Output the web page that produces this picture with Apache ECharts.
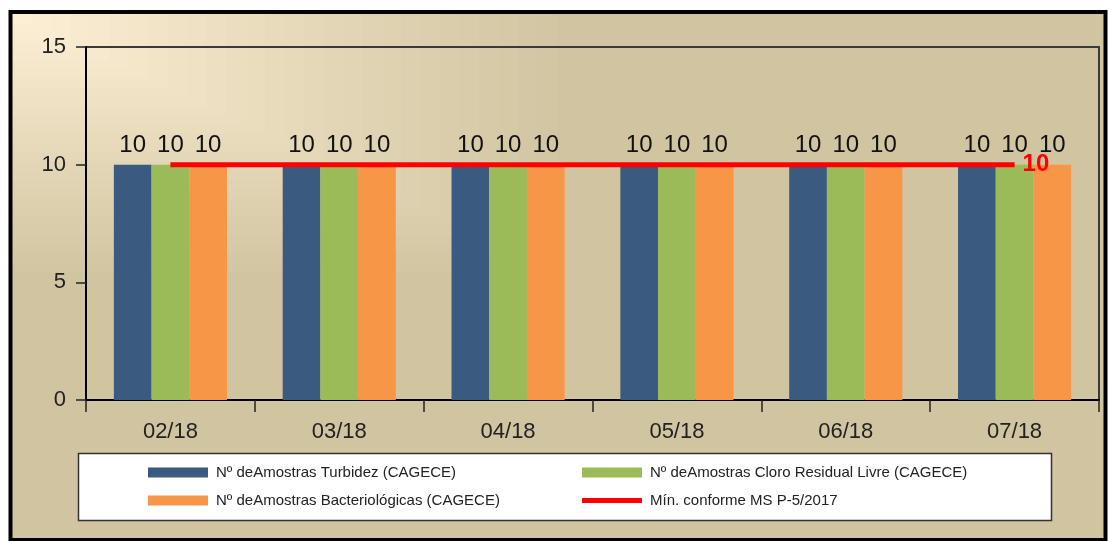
<!DOCTYPE html>
<html>
<head>
<meta charset="utf-8">
<script src="https://cdn.jsdelivr.net/npm/echarts@6/dist/echarts.min.js"></script>
<style>
html,body{margin:0;padding:0;background:#ffffff;}
#chart{width:1108px;height:541px;}
</style>
</head>
<body>
<div id="chart"></div>
<script>
var categories = ['02/18', '03/18', '04/18', '05/18', '06/18', '07/18'];
var turbidez = [10, 10, 10, 10, 10, 10];
var cloro = [10, 10, 10, 10, 10, 10];
var bacteriologicas = [10, 10, 10, 10, 10, 10];
var minimo = [10, 10, 10, 10, 10, 10];
var seriesNames = [
  'Nº deAmostras Turbidez (CAGECE)',
  'Nº deAmostras Cloro Residual Livre (CAGECE)',
  'Nº deAmostras Bacteriológicas (CAGECE)',
  'Mín. conforme MS P-5/2017'
];

var FONT = 'Liberation Sans, Arial, sans-serif';

// background: stepped rectangular gradient anchored at top-left
function hex(c){return [parseInt(c.substr(1,2),16),parseInt(c.substr(3,2),16),parseInt(c.substr(5,2),16)];}
function lerp(a,b,t){var A=hex(a),B=hex(b);return 'rgb('+A.map(function(v,i){return Math.round(v+(B[i]-v)*t);}).join(',')+')';}
var TAN = '#d1c4a1', LIGHT = '#fcefd4';
var bgEls = [{type:'rect', z:-20, shape:{x:12,y:14,width:1092,height:526}, style:{fill:TAN}}];
var N = 28, W0 = 545, H0 = 258;
for (var k = 0; k < N; k++) {
  var f = (N - k) / N;
  bgEls.push({type:'rect', z:-19, shape:{x:12,y:14,width:W0*f,height:H0*f}, style:{fill:lerp(TAN, LIGHT, (k+1)/N)}});
}
bgEls.push({type:'rect', z:-18, shape:{x:10.5,y:12,width:1095,height:528}, style:{fill:'none', stroke:'#000', lineWidth:4}});
bgEls.push({type:'rect', z:-17, shape:{x:78.5,y:453.5,width:973,height:67}, style:{fill:'#ffffff', stroke:'#333', lineWidth:1.5}});

var chart = echarts.init(document.getElementById('chart'), null, {renderer:'canvas'});

function legendAt(name, left, top, h) {
  return {
    data: [{name: name, icon: 'rect'}], left: left, top: top, padding: 0,
    itemWidth: 60, itemHeight: h, selectedMode: false,
    textStyle: {fontFamily: FONT, fontSize: 15, color: '#222', padding: [0,0,0,3]}
  };
}

var barLabel = {show: true, position: 'top', distance: 7, fontFamily: FONT, fontSize: 24, color: '#111'};

chart.setOption({
  animation: false,
  textStyle: {fontFamily: FONT},
  graphic: {elements: bgEls},
  grid: {left: 86, top: 47, right: 9, bottom: 141, show: true, borderColor: '#3a3a3a', borderWidth: 2, backgroundColor: 'transparent'},
  legend: [
    legendAt(seriesNames[0], 148, 465, 10),
    legendAt(seriesNames[2], 148, 493, 10),
    legendAt(seriesNames[1], 582, 465, 10),
    legendAt(seriesNames[3], 582, 493, 5)
  ],
  xAxis: {
    type: 'category', data: categories,
    axisLine: {show: true, lineStyle: {color: '#000', width: 2}},
    axisTick: {show: true, length: 12, lineStyle: {color: '#222', width: 1.5}},
    axisLabel: {margin: 21, fontFamily: FONT, fontSize: 22, color: '#222'},
    splitLine: {show: false}
  },
  yAxis: {
    type: 'value', min: 0, max: 15, interval: 5,
    axisLine: {show: true, lineStyle: {color: '#000', width: 2}},
    axisTick: {show: true, length: 10, lineStyle: {color: '#222', width: 1.5}},
    axisLabel: {margin: 20, fontFamily: FONT, fontSize: 22, color: '#222'},
    splitLine: {show: false}
  },
  series: [
    {name: seriesNames[0], type: 'bar', data: turbidez, barGap: 0, barCategoryGap: '33%', itemStyle: {color: '#3a5a80'}, label: barLabel},
    {name: seriesNames[1], type: 'bar', data: cloro, barGap: 0, barCategoryGap: '33%', itemStyle: {color: '#9bbb59'}, label: barLabel},
    {name: seriesNames[2], type: 'bar', data: bacteriologicas, barGap: 0, barCategoryGap: '33%', itemStyle: {color: '#f79646'}, label: barLabel},
    {name: seriesNames[3], type: 'line', data: minimo, symbol: 'none', showSymbol: false, z: 5,
     lineStyle: {color: '#ff0000', width: 5}, itemStyle: {color: '#ff0000'},
     endLabel: {show: true, formatter: '{c}', color: '#ff0000', fontFamily: FONT, fontWeight: 'bold', fontSize: 24, distance: 8}}
  ]
});
</script>
</body>
</html>
